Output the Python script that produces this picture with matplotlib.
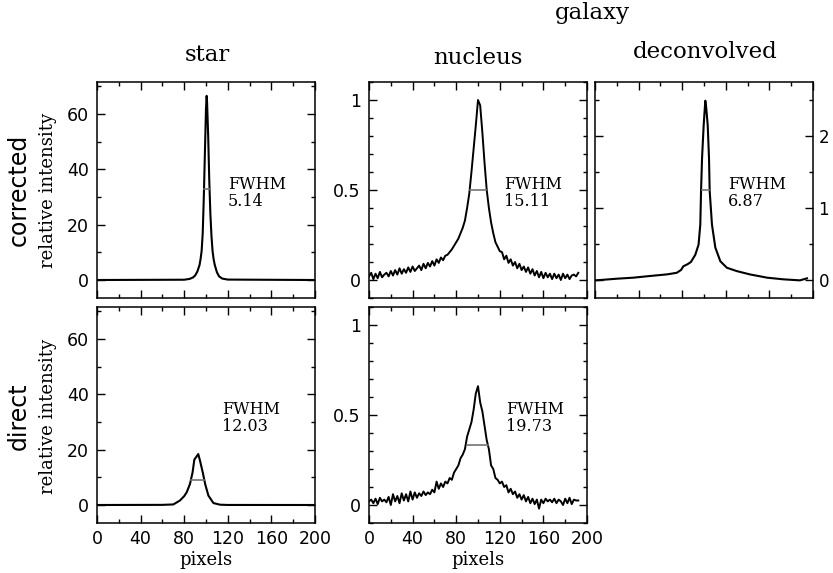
import matplotlib
matplotlib.use("Agg")
import matplotlib.pyplot as plt
from matplotlib.ticker import MultipleLocator

# star profiles (pixel, relative intensity)
star_corr_x = [0, 80, 85, 88, 90, 92, 94, 95, 96, 97, 98, 99, 100, 100.6, 101, 102, 103,
               104, 105, 106, 107, 108, 110, 112, 115, 120, 199]
star_corr_y = [0, 0.1, 0.4, 0.9, 1.6, 3.0, 5.3, 7.5, 10.5, 17, 30, 46, 62, 66.5, 64, 52, 36,
               24, 16, 10.5, 7.5, 5.5, 2.8, 1.3, 0.5, 0.15, 0]
star_dir_x = [0, 60, 70, 76, 80, 82.3, 85.3, 87.7, 89.3, 90.8, 92.9, 94.5, 97, 99.2, 102.2,
              106.8, 113, 120, 199]
star_dir_y = [0, 0.05, 0.2, 1.6, 3.2, 4.6, 7.6, 11.8, 16.4, 17.2, 18.4, 16.0, 11.8, 7.6, 3.4,
              0.7, 0.1, 0.02, 0]

# galaxy nucleus profiles, sampled every 2 pixels
nuc_x = list(range(0, 193, 2))
nuc_corr_y = [0.02, 0.04, 0.005, 0.035, 0.01, 0.045, 0.015, 0.03, 0.04, 0.02,
              0.05, 0.025, 0.055, 0.03, 0.065, 0.035, 0.06, 0.04, 0.07, 0.045,
              0.075, 0.05, 0.065, 0.08, 0.055, 0.09, 0.065, 0.095, 0.075, 0.105,
              0.08, 0.115, 0.095, 0.125, 0.11, 0.135, 0.14, 0.155, 0.17, 0.19,
              0.21, 0.23, 0.26, 0.29, 0.33, 0.40, 0.48, 0.60, 0.73, 0.86,
              1.0, 0.97, 0.82, 0.65, 0.50, 0.40, 0.32, 0.26, 0.21, 0.185,
              0.16, 0.155, 0.115, 0.135, 0.095, 0.115, 0.08, 0.1, 0.065, 0.09,
              0.055, 0.075, 0.045, 0.07, 0.035, 0.06, 0.025, 0.05, 0.015, 0.045,
              0.01, 0.04, 0.015, 0.035, 0.005, 0.035, 0.01, 0.03, 0.0, 0.035,
              0.01, 0.03, 0.005, 0.025, 0.03, 0.02, 0.04]
nuc_dir_y = [0.02, 0.03, 0.01, 0.035, 0.005, 0.04, 0.02, 0.03, 0.015, 0.045,
             0.0, 0.06, 0.02, 0.05, 0.01, 0.065, 0.025, 0.06, 0.02, 0.075,
             0.03, 0.07, 0.04, 0.065, 0.05, 0.075, 0.055, 0.07, 0.06, 0.085,
             0.07, 0.13, 0.09, 0.12, 0.1, 0.13, 0.12, 0.15, 0.14, 0.18,
             0.2, 0.22, 0.26, 0.28, 0.31, 0.38, 0.42, 0.46, 0.53, 0.62,
             0.66, 0.57, 0.52, 0.44, 0.36, 0.31, 0.22, 0.2, 0.15, 0.14,
             0.12, 0.13, 0.1, 0.11, 0.07, 0.09, 0.06, 0.075, 0.04, 0.06,
             0.03, 0.055, 0.02, 0.045, 0.01, 0.035, 0.005, 0.03, -0.02, 0.03,
             0.01, 0.035, 0.02, 0.03, 0.015, 0.035, 0.01, 0.03, 0.02, 0.0,
             0.035, 0.01, 0.04, 0.005, 0.03, 0.025, 0.025]

# deconvolved galaxy profile
dec_x = [0, 5, 20, 35, 50, 66, 75, 79, 81, 85, 88, 92, 95, 96.6, 97.3, 98.2, 99.7, 101.2,
         102, 103.4, 104.6, 105.2, 107.3, 110.4, 115, 121, 130, 142, 158, 173, 188, 194.5]
dec_y = [-0.005, 0.0, 0.018, 0.032, 0.055, 0.078, 0.10, 0.14, 0.19, 0.22, 0.25, 0.35, 0.49,
         0.77, 1.24, 1.69, 2.15, 2.49, 2.4, 2.15, 1.69, 1.24, 0.77, 0.45, 0.26, 0.17, 0.124,
         0.078, 0.032, 0.009, -0.005, 0.023]

# half-maximum segments: (x0, x1, level) and labels
fwhm_lines = {
    "sc": (98.2, 103.3, 33),
    "nc": (92.5, 107.6, 0.5),
    "dc": (97.8, 104.7, 1.245),
    "sd": (86.5, 98.5, 9.2),
    "nd": (89.5, 109.2, 0.336),
}
fwhm_text = {"sc": "5.14", "nc": "15.11", "dc": "6.87", "sd": "12.03", "nd": "19.73"}

serif = "DejaVu Serif"
W, H = 833, 573
fig = plt.figure(figsize=(W / 100, H / 100), dpi=100)


def box(x0, y0, x1, y1):
    return [x0 / W, 1 - y1 / H, (x1 - x0) / W, (y1 - y0) / H]


def style(ax, ymaj, ymin):
    ax.set_xlim(0, 200)
    ax.xaxis.set_major_locator(MultipleLocator(40))
    ax.xaxis.set_minor_locator(MultipleLocator(20))
    ax.yaxis.set_major_locator(MultipleLocator(ymaj))
    ax.yaxis.set_minor_locator(MultipleLocator(ymin))
    ax.tick_params(which="both", direction="in", top=True, right=True,
                   labelsize=12.5, width=1.0)
    ax.tick_params(which="major", length=6)
    ax.tick_params(which="minor", length=3)
    ax.tick_params(axis="x", pad=5)
    ax.tick_params(axis="y", pad=6)
    for s in ax.spines.values():
        s.set_linewidth(1.1)


def fwhm(ax, key, tx):
    x0, x1, lev = fwhm_lines[key]
    ax.plot([x0, x1], [lev, lev], color="0.45", lw=1.2)
    ax.text(tx, 0.565, "FWHM\n" + fwhm_text[key], transform=ax.transAxes,
            va="top", ha="left", family=serif, fontsize=11.5, linespacing=1.0)


ax_sc = fig.add_axes(box(97, 82, 315, 298))
ax_nc = fig.add_axes(box(369, 82, 587, 298))
ax_dc = fig.add_axes(box(595, 82, 813, 298))
ax_sd = fig.add_axes(box(97, 307, 315, 523))
ax_nd = fig.add_axes(box(369, 307, 587, 523))

for ax in (ax_sc, ax_sd):
    style(ax, 20, 10)
    ax.set_ylim(-6.5, 71.5)
for ax in (ax_nc, ax_nd):
    style(ax, 0.5, 0.1)
    ax.set_ylim(-0.1, 1.1)
    ax.yaxis.set_major_formatter(plt.FuncFormatter(lambda v, p: "%g" % v))
style(ax_dc, 1, 0.5)
ax_dc.set_ylim(-0.25, 2.75)
ax_dc.tick_params(axis="y", labelleft=False, labelright=True, pad=4, labelsize=12)

for ax in (ax_sc, ax_nc, ax_dc):
    ax.tick_params(axis="x", labelbottom=False)

ax_sc.plot(star_corr_x, star_corr_y, color="black", lw=1.5)
ax_sd.plot(star_dir_x, star_dir_y, color="black", lw=1.5)
ax_nc.plot(nuc_x, nuc_corr_y, color="black", lw=1.4)
ax_nd.plot(nuc_x, nuc_dir_y, color="black", lw=1.4)
ax_dc.plot(dec_x, dec_y, color="black", lw=1.5)

fwhm(ax_sc, "sc", 0.60)
fwhm(ax_nc, "nc", 0.62)
fwhm(ax_dc, "dc", 0.61)
fwhm(ax_sd, "sd", 0.575)
fwhm(ax_nd, "nd", 0.63)

for ax in (ax_sd, ax_nd):
    ax.set_xlabel("pixels", family=serif, fontsize=13, labelpad=2)

# column and row headings
fig.text(592 / W, 1 - 13 / H, "galaxy", family=serif, fontsize=16.5, ha="center", va="center")
fig.text(207 / W, 1 - 55 / H, "star", family=serif, fontsize=16.5, ha="center", va="center")
fig.text(478 / W, 1 - 58 / H, "nucleus", family=serif, fontsize=16.5, ha="center", va="center")
fig.text(705 / W, 1 - 52 / H, "deconvolved", family=serif, fontsize=16.5, ha="center", va="center")

for name, yc in (("corrected", 190), ("direct", 416)):
    fig.text(19 / W, 1 - yc / H, name, fontsize=17, rotation=90,
             ha="center", va="center")
    fig.text(48 / W, 1 - yc / H, "relative intensity", family=serif, fontsize=13,
             rotation=90, ha="center", va="center")

fig.savefig("out.png", dpi=100)
